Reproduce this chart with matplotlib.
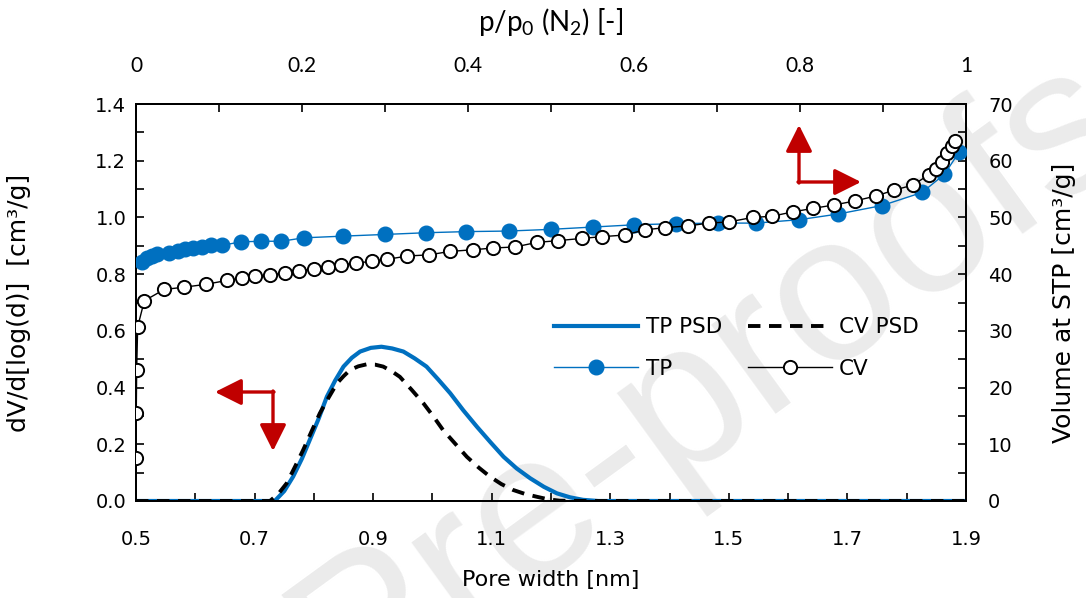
import matplotlib
matplotlib.use("Agg")
import matplotlib.pyplot as plt
from matplotlib.ticker import MultipleLocator, FixedLocator
from matplotlib.lines import Line2D
from matplotlib.patches import FancyArrowPatch

# ---------------- data ----------------
# Pore size distributions (left / bottom axes)
tp_psd_width = [0.50, 0.70, 0.734, 0.750, 0.765, 0.780, 0.793, 0.808, 0.822, 0.836, 0.850,
                0.864, 0.878, 0.896, 0.914, 0.932, 0.951, 0.970, 0.990, 1.010, 1.030,
                1.052, 1.075, 1.098, 1.120, 1.142, 1.165, 1.188, 1.210, 1.232, 1.254,
                1.280, 1.90]
tp_psd_value = [0.0, 0.0, 0.0, 0.035, 0.086, 0.150, 0.215, 0.290, 0.368, 0.425, 0.474,
                0.505, 0.527, 0.540, 0.544, 0.538, 0.527, 0.503, 0.474, 0.428, 0.380,
                0.320, 0.262, 0.207, 0.156, 0.115, 0.080, 0.050, 0.027, 0.013, 0.004,
                0.0, 0.0]
cv_psd_width = [0.50, 0.70, 0.726, 0.740, 0.754, 0.768, 0.782, 0.796, 0.810, 0.825, 0.839,
                0.850, 0.861, 0.875, 0.889, 0.903, 0.917, 0.931, 0.945, 0.965, 0.985,
                1.002, 1.018, 1.038, 1.058, 1.078, 1.097, 1.116, 1.136, 1.156, 1.176,
                1.195, 1.215, 1.26, 1.90]
cv_psd_value = [0.0, 0.0, 0.0, 0.025, 0.062, 0.120, 0.180, 0.245, 0.309, 0.365, 0.415,
                0.440, 0.462, 0.475, 0.482, 0.481, 0.474, 0.458, 0.438, 0.392, 0.344,
                0.297, 0.250, 0.203, 0.156, 0.118, 0.086, 0.060, 0.039, 0.025, 0.015,
                0.006, 0.001, 0.0, 0.0]

# N2 isotherms (top / right axes)
tp_p = [0.007, 0.013, 0.019, 0.025, 0.040, 0.051, 0.059, 0.069, 0.080, 0.090, 0.104,
        0.127, 0.151, 0.175, 0.202, 0.249, 0.300, 0.349, 0.398, 0.449, 0.500, 0.550,
        0.600, 0.650, 0.701, 0.747, 0.799, 0.846, 0.899, 0.947, 0.974, 0.992]
tp_vol = [42.1, 42.8, 43.2, 43.6, 43.7, 44.1, 44.4, 44.6, 44.8, 45.1, 45.1,
          45.7, 45.8, 45.8, 46.4, 46.7, 47.0, 47.3, 47.5, 47.6, 47.9, 48.3,
          48.7, 48.9, 49.0, 49.0, 49.6, 50.6, 52.1, 54.4, 57.6, 61.6]
cv_p = [0.0001, 0.0003, 0.0008, 0.002, 0.010, 0.034, 0.058, 0.084, 0.110, 0.128, 0.143,
        0.161, 0.180, 0.196, 0.214, 0.231, 0.247, 0.265, 0.284, 0.302, 0.327, 0.353,
        0.378, 0.406, 0.430, 0.457, 0.483, 0.508, 0.537, 0.561, 0.589, 0.613, 0.637,
        0.665, 0.690, 0.714, 0.743, 0.766, 0.792, 0.816, 0.841, 0.866, 0.892, 0.913,
        0.936, 0.955, 0.964, 0.971, 0.977, 0.983, 0.987]
cv_vol = [7.5, 15.5, 23.1, 30.7, 35.3, 37.3, 37.7, 38.2, 38.9, 39.3, 39.6,
          39.9, 40.2, 40.6, 40.9, 41.2, 41.7, 41.9, 42.3, 42.6, 43.2, 43.4,
          44.0, 44.3, 44.6, 44.8, 45.6, 45.9, 46.3, 46.6, 46.9, 47.8, 48.2,
          48.5, 49.0, 49.2, 50.0, 50.2, 51.0, 51.6, 52.2, 52.9, 53.8, 54.8,
          55.7, 57.5, 58.5, 59.8, 61.3, 62.6, 63.5]

bottom_ticks = [0.5, 0.7, 0.9, 1.1, 1.3, 1.5, 1.7, 1.9]
left_ticks = [0.0, 0.2, 0.4, 0.6, 0.8, 1.0, 1.2, 1.4]
right_ticks = [0, 10, 20, 30, 40, 50, 60, 70]
top_ticks = [0, 0.2, 0.4, 0.6, 0.8, 1.0]
top_labels = ["0", "0.2", "0.4", "0.6", "0.8", "1"]

# ---------------- style ----------------
BLUE = "#0070C0"
RED = "#C00000"
FONT = "DejaVu Sans"
TFONT = "Lato"
W, H = 1086, 598

plt.rcParams["mathtext.fontset"] = "custom"
plt.rcParams["mathtext.rm"] = "Lato"
plt.rcParams["mathtext.it"] = "Lato:italic"
plt.rcParams["mathtext.bf"] = "Lato:bold"

fig = plt.figure(figsize=(W / 100, H / 100), dpi=100)
fig.patch.set_facecolor("white")

# watermark (behind everything)
fig.text(1140 / W, 1 - 150 / H, "Journal Pre-proofs", fontsize=150, color="#ebebeb",
         rotation=36, rotation_mode="anchor", ha="right", va="baseline",
         family="Liberation Sans", zorder=-5)

ax = fig.add_axes([136 / W, 1 - 501 / H, 830 / W, 397 / H])
ax.patch.set_alpha(0)
ax2 = ax.twinx()
ax3 = ax2.twiny()

# PSD curves
ax.plot(tp_psd_width, tp_psd_value, color=BLUE, lw=3.0, solid_capstyle="butt",
        solid_joinstyle="round", zorder=3)
ax.plot(cv_psd_width, cv_psd_value, color="black", lw=2.8, ls=(0, (3.2, 2.2)),
        zorder=4)
ax.set_xlim(0.5, 1.9)
ax.set_ylim(0, 1.4)
ax.xaxis.set_major_locator(FixedLocator(bottom_ticks))
ax.xaxis.set_minor_locator(MultipleLocator(0.1))
ax.yaxis.set_major_locator(FixedLocator(left_ticks))
ax.yaxis.set_minor_locator(MultipleLocator(0.1))
ax.set_xticklabels([f"{v:.1f}" for v in bottom_ticks])
ax.set_yticklabels([f"{v:.1f}" for v in left_ticks])

# isotherms
ax3.plot(tp_p, tp_vol, color=BLUE, lw=1.0, marker="o", ms=10.5, mfc=BLUE, mec=BLUE,
         zorder=5)
ax3.plot(cv_p, cv_vol, color="black", lw=1.0, marker="o", ms=9.5, mfc="white",
         mec="black", mew=1.4, zorder=6)
ax3.set_xlim(0, 1)
ax2.set_ylim(0, 70)
ax3.xaxis.set_major_locator(FixedLocator(top_ticks))
ax3.xaxis.set_minor_locator(MultipleLocator(0.1))
ax3.set_xticklabels(top_labels)
ax2.yaxis.set_major_locator(FixedLocator(right_ticks))
ax2.yaxis.set_minor_locator(MultipleLocator(5))

for a in (ax, ax2, ax3):
    for s in a.spines.values():
        s.set_linewidth(1.3)
        s.set_color("black")

ax.tick_params(which="both", direction="in", length=6, width=1.2,
               labelsize=14, colors="black")
ax.tick_params(axis="x", which="both", top=False, pad=21)
ax.tick_params(axis="y", which="both", pad=7)
ax2.tick_params(which="both", direction="in", length=6, width=1.2,
                labelsize=14, pad=16)
ax3.tick_params(which="both", direction="in", length=6, width=1.2,
                labelsize=15, pad=20)
for lab in ax.get_xticklabels() + ax.get_yticklabels() + ax2.get_yticklabels():
    lab.set_family(FONT)
for lab in ax3.get_xticklabels():
    lab.set_family(TFONT)

ax.set_xlabel("Pore width [nm]", fontsize=16, family=FONT, labelpad=15)
ax.set_ylabel("dV/d[log(d)]  [cm³/g]", fontsize=18, family=FONT, labelpad=46)
ax2.set_ylabel("Volume at STP [cm³/g]", fontsize=18, family=FONT, labelpad=28)
ax3.set_xlabel("p/p$_0$ (N$_2$) [-]", fontsize=20, family=TFONT, labelpad=18)

# legend
handles = [
    Line2D([], [], color=BLUE, lw=3.0),
    Line2D([], [], color=BLUE, lw=1.0, marker="o", ms=10.5, mfc=BLUE, mec=BLUE),
    Line2D([], [], color="black", lw=2.8, ls=(0, (3.2, 2.2))),
    Line2D([], [], color="black", lw=1.0, marker="o", ms=9.5, mfc="white",
           mec="black", mew=1.4),
]
labels = ["TP PSD", "TP", "CV PSD", "CV"]
leg = ax3.legend(handles, labels, ncol=2, frameon=False,
                 loc="upper left", bbox_to_anchor=(539 / W, 1 - 302 / H),
                 bbox_transform=fig.transFigure,
                 prop={"family": FONT, "size": 15.5},
                 handlelength=3.9, handletextpad=0.35, columnspacing=1.2,
                 labelspacing=1.0, numpoints=1, borderpad=0.2)
leg.set_zorder(10)

# red arrows (figure pixel coordinates)
def arrow(x0, y0, x1, y1):
    fig.add_artist(FancyArrowPatch(
        (x0 / W, 1 - y0 / H), (x1 / W, 1 - y1 / H),
        transform=fig.transFigure, arrowstyle="-|>,head_length=0.9,head_width=0.45",
        mutation_scale=18, color=RED, lw=2.4, shrinkA=0, shrinkB=0, zorder=12))

arrow(799, 183, 799, 125)
arrow(798, 182, 861, 182)
arrow(274, 392, 215, 392)
arrow(273, 391, 273, 451)

fig.savefig("out.png", dpi=100)
